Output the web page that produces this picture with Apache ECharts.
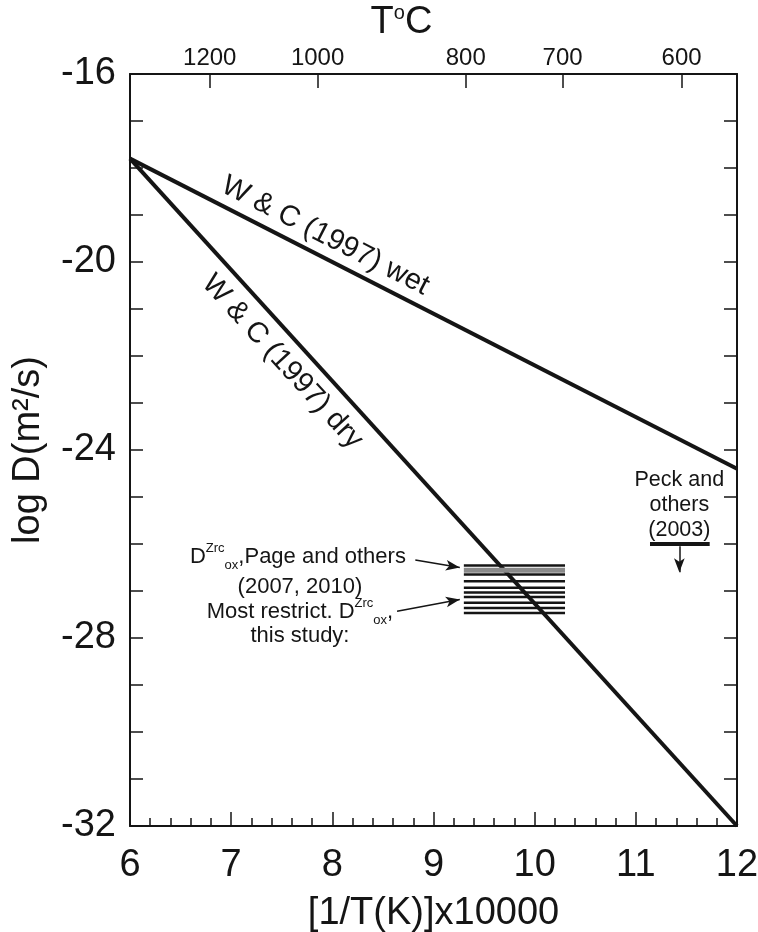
<!DOCTYPE html>
<html>
<head>
<meta charset="utf-8">
<script src="https://cdn.jsdelivr.net/npm/echarts@6/dist/echarts.min.js"></script>
<style>
html, body { margin: 0; padding: 0; background: #fff; }
#chart { width: 758px; height: 932px; }
</style>
</head>
<body>
<div id="chart"></div>
<script>
// x: [1/T(K)]x10000, y: log D (m2/s)
var tempLabels = [1200, 1000, 800, 700, 600] // top axis, deg C

var wetLine = [[6, -17.8], [12, -24.4]]
var dryLine = [[6, -17.8], [12, -32.0]]

// D ox Zrc, Page and others (2007, 2010) - grey band
var bandX = [9.3, 10.3]
var pageLevels = [-26.56]
// most restrictive D ox Zrc, this study
var studyLevels = [-26.46, -26.65, -26.79, -26.93, -27.03, -27.13, -27.25, -27.36, -27.47]

// Peck and others (2003), upper limit
var peckX = [11.14, 11.73]
var peckLevel = -26

var ink = '#151515'
var font = 'Liberation Sans, Arial, Helvetica, sans-serif'

var tempX = tempLabels.map(function (t) { return 10000 / (t + 273.15) })

function seg (pts, color, width) {
  return {
    type: 'line',
    data: pts,
    symbol: 'none',
    silent: true,
    animation: false,
    lineStyle: { color: color, width: width },
    z: 3
  }
}

function arrow (from, to) {
  return [{ coord: from }, { coord: to }]
}

var series = [
  seg(wetLine, ink, 4),
  seg(dryLine, ink, 4)
]
pageLevels.forEach(function (y) {
  series.push(seg([[bandX[0], y], [bandX[1], y]], '#8a8a8a', 5))
})
studyLevels.forEach(function (y) {
  series.push(seg([[bandX[0], y], [bandX[1], y]], ink, 2.5))
})
var peck = seg([[peckX[0], peckLevel], [peckX[1], peckLevel]], ink, 4)
// arrows pointing to the bands and below the Peck limit
peck.markLine = {
  silent: true,
  animation: false,
  symbol: ['none', 'arrow'],
  symbolSize: [8, 14],
  label: { show: false },
  lineStyle: { color: ink, width: 1.5, type: 'solid' },
  data: [
    arrow([11.43, -26.05], [11.43, -26.6]),
    arrow([8.82, -26.34], [9.26, -26.5]),
    arrow([8.64, -27.43], [9.26, -27.18])
  ]
}
series.push(peck)

var axisLineStyle = { color: ink, width: 2 }
var tickStyle = { color: ink, width: 1.5 }

var chart = echarts.init(document.getElementById('chart'))
var option = {
  animation: false,
  textStyle: { fontFamily: font },
  grid: { left: 130, right: 21, top: 74, bottom: 106, outerBoundsMode: 'none' },
  xAxis: [
    {
      type: 'value',
      position: 'bottom',
      min: 6,
      max: 12,
      interval: 1,
      axisLine: { onZero: false, lineStyle: axisLineStyle },
      axisTick: { inside: true, length: 14, lineStyle: tickStyle },
      minorTick: { show: true, splitNumber: 5, length: 8, lineStyle: tickStyle },
      axisLabel: { margin: 21, fontSize: 38, color: ink, fontFamily: font },
      splitLine: { show: false },
      name: '[1/T(K)]x10000',
      nameLocation: 'middle',
      nameGap: 69,
      nameTextStyle: { fontSize: 38, color: ink, fontFamily: font }
    },
    {
      type: 'value',
      position: 'top',
      min: 6,
      max: 12,
      axisLine: { onZero: false, lineStyle: axisLineStyle },
      axisTick: { inside: true, length: 14, lineStyle: tickStyle, customValues: tempX },
      axisLabel: {
        margin: 4,
        fontSize: 24,
        color: ink,
        fontFamily: font,
        customValues: tempX,
        formatter: function (v) { return String(Math.round(10000 / v - 273.15)) }
      },
      splitLine: { show: false },
      name: '{t|T}{o|o}{t|C}',
      nameLocation: 'middle',
      nameGap: 30,
      nameTextStyle: {
        color: ink,
        padding: [0, 64, 0, 0],
        rich: {
          t: { fontSize: 38, color: ink, fontFamily: font, lineHeight: 38 },
          o: { fontSize: 20, color: ink, fontFamily: font, verticalAlign: 'top', lineHeight: 38 }
        }
      }
    }
  ],
  yAxis: [
    {
      type: 'value',
      position: 'left',
      min: -32,
      max: -16,
      interval: 4,
      axisLine: { onZero: false, lineStyle: axisLineStyle },
      axisTick: { inside: true, length: 13, lineStyle: tickStyle },
      minorTick: { show: true, splitNumber: 4, length: 13, lineStyle: tickStyle },
      axisLabel: { margin: 14, fontSize: 38, color: ink, fontFamily: font },
      splitLine: { show: false },
      name: 'log D(m²/s)',
      nameLocation: 'middle',
      nameGap: 82,
      nameTextStyle: { fontSize: 38, color: ink, fontFamily: font }
    },
    {
      type: 'value',
      position: 'right',
      min: -32,
      max: -16,
      interval: 4,
      axisLine: { onZero: false, lineStyle: axisLineStyle },
      axisTick: { inside: true, length: 13, lineStyle: tickStyle },
      minorTick: { show: true, splitNumber: 4, length: 13, lineStyle: tickStyle },
      axisLabel: { show: false },
      splitLine: { show: false }
    }
  ],
  series: series
}
chart.setOption(option)

// text annotations placed from data coordinates
function px (p) { return chart.convertToPixel({ xAxisIndex: 0, yAxisIndex: 0 }, p) }

function lineLabel (line, atX, offset, side, text) {
  var a = px(line[0])
  var b = px(line[1])
  var ang = Math.atan2(b[1] - a[1], b[0] - a[0])
  var t = (atX - line[0][0]) / (line[1][0] - line[0][0])
  var y = line[0][1] + t * (line[1][1] - line[0][1])
  var p = px([atX, y])
  var nx = Math.sin(ang) * side
  var ny = -Math.cos(ang) * side
  return {
    type: 'text',
    x: p[0] + nx * offset,
    y: p[1] + ny * offset,
    rotation: -ang,
    silent: true,
    style: {
      text: text,
      x: 0,
      y: 0,
      align: 'center',
      verticalAlign: 'middle',
      fill: ink,
      font: '29px ' + font
    }
  }
}

function note (at, text, rich) {
  var p = px(at)
  var el = {
    type: 'text',
    x: p[0],
    y: p[1],
    silent: true,
    style: {
      text: text,
      align: 'center',
      verticalAlign: 'middle',
      fill: ink,
      font: '21.5px ' + font,
      lineHeight: 25
    }
  }
  if (rich) el.style.rich = rich
  return el
}

var dRich = {
  n: { fontSize: 22, fontFamily: font, fill: ink, lineHeight: 30 },
  sup: { fontSize: 13, fontFamily: font, fill: ink, verticalAlign: 'top', lineHeight: 30 },
  sub: { fontSize: 13, fontFamily: font, fill: ink, verticalAlign: 'bottom', lineHeight: 30 }
}

chart.setOption({
  graphic: [
    lineLabel(wetLine, 7.84, 20, 1, 'W & C (1997) wet'),
    lineLabel(dryLine, 7.68, 24, -1, 'W & C (1997) dry'),
    note([11.43, -25.17], 'Peck and\nothers\n(2003)'),
    note([7.66, -26.28], '{n|D}{sup|Zrc}{sub|ox}{n|,Page and others}', dRich),
    note([7.68, -26.91], '{n|(2007, 2010)}', dRich),
    note([7.68, -27.45], '{n|Most restrict. D}{sup|Zrc}{sub|ox}{n|,}', dRich),
    note([7.68, -27.96], '{n|this study:}', dRich)
  ]
})
</script>
</body>
</html>
